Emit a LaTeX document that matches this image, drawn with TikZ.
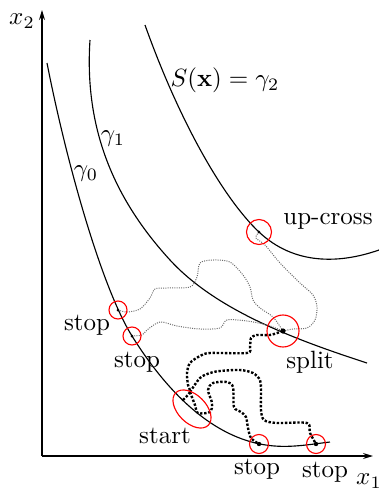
\documentclass[tikz,border=0pt]{standalone}
\usepackage{amsmath,amssymb}
\usepackage{xcolor}
\usepackage{tikz}
\usetikzlibrary{arrows.meta,calc}
\tikzset{
  nivel/.style={black,line width=0.45pt},
  marca/.style={draw=red,line width=0.45pt},
  rastro/.style={gray!85!black,line width=0.4pt,dash pattern=on 0.4pt off 0.5pt},
  camino/.style={black,line width=0.95pt,dash pattern=on 0.95pt off 0.7pt},
  ejes/.style={-{Stealth[length=4pt,width=2.4pt]},black,line width=0.5pt}
}

\begin{document}
\begin{tikzpicture}[x=0.4pt,y=-0.4pt]
\useasboundingbox (0,0) rectangle (379,488);
% ejes
\coordinate (O) at (42,456); \coordinate (X) at (373,456); \coordinate (Y) at (42,10);
\draw[ejes] (O)--(X);
\draw[ejes] (O)--(Y);
\node (ex1) at (369,481) {$x_1$};
\node (ex2) at (22,21) {$x_2$};
% curvas de nivel
\draw[nivel] (47,63) .. controls (67,165) and (102,288) .. (132,336)
  .. controls (167,392) and (210,434) .. (260,444)
  .. controls (285,449) and (305,445) .. (330,442);
\draw[nivel] (90,40) .. controls (84,130) and (115,200) .. (170,260)
  .. controls (215,309) and (290,338) .. (367,363);
\draw[nivel] (145,25) .. controls (180,123) and (224,199) .. (259,232)
  .. controls (294,265) and (339,264) .. (379,250);
\node (g2) at (225,80) {$S(\mathbf{x})=\gamma_2$};
\node (g1) at (113,139) {$\gamma_1$};
\node (g0) at (86,174) {$\gamma_0$};
% puntos
\coordinate (cruce) at (259,232);
\coordinate (division) at (283,331);
\coordinate (paro1) at (118,310);
\coordinate (paro2) at (132,336);
\coordinate (paro3) at (259,444);
\coordinate (paro4) at (316,444);
\coordinate (inicio) at (183,400);
\coordinate (nudo) at (190,392);
% rastros finos
\draw[rastro] plot[smooth] coordinates {(cruce) (256,238) (265,245) (280,263) (300,283) (313,295) (317,307) (315,320) (307,328) (293,329) (division)};
\draw[rastro] plot[smooth] coordinates {(paro1) (127,312) (140,309) (150,298) (155,289) (167,288) (190,287) (197,277) (200,263) (213,260) (230,262) (243,275) (250,287) (253,300) (260,308) (273,317) (division)};
\draw[rastro] plot[smooth] coordinates {(paro2) (142,335) (147,330) (160,322) (177,326) (200,329) (220,328) (227,320) (247,321) (267,325) (division)};
% caminos gruesos
\draw[camino] plot[smooth] coordinates {(inicio) (nudo) (188,385) (187,373) (190,363) (200,356) (210,353) (247,353) (250,347) (251,338) (257,335) (270,335) (division)};
\draw[camino] plot[smooth] coordinates {(nudo) (200,378) (210,373) (220,371) (240,370) (253,373) (260,380) (261,390) (261,410) (264,420) (277,423) (307,423) (310,433) (paro4)};
\draw[camino] plot[smooth] coordinates {(nudo) (195,405) (198,413) (210,412) (212,403) (208,390) (213,383) (227,382) (233,387) (234,407) (241,412) (246,417) (248,428) (251,438) (paro3)};
% marcas
\foreach \p/\r in {cruce/12.5,division/16,paro1/9,paro2/9,paro3/9.5,paro4/9.5}{
  \draw[marca] (\p) circle[radius=\r];
}
\draw[marca,rotate around={-45:(192,409)}] (192,409) ellipse[x radius=23,y radius=14];
\foreach \p/\r in {cruce/1.5,division/2.6,paro1/1.5,paro2/1.5,paro3/2.2,paro4/2.2,inicio/1.3}{
  \fill (\p) circle[radius=\r];
}
% etiquetas
\node (etqcruce) at (328,221) {up-cross};
\node (etqdiv) at (310,362) {split};
\node (etqparo1) at (87,325) {stop};
\node (etqparo2) at (137,362) {stop};
\node (etqinicio) at (165,436) {start};
\node (etqparo3) at (257,469) {stop};
\node (etqparo4) at (325,472) {stop};
\end{tikzpicture}
\end{document}
